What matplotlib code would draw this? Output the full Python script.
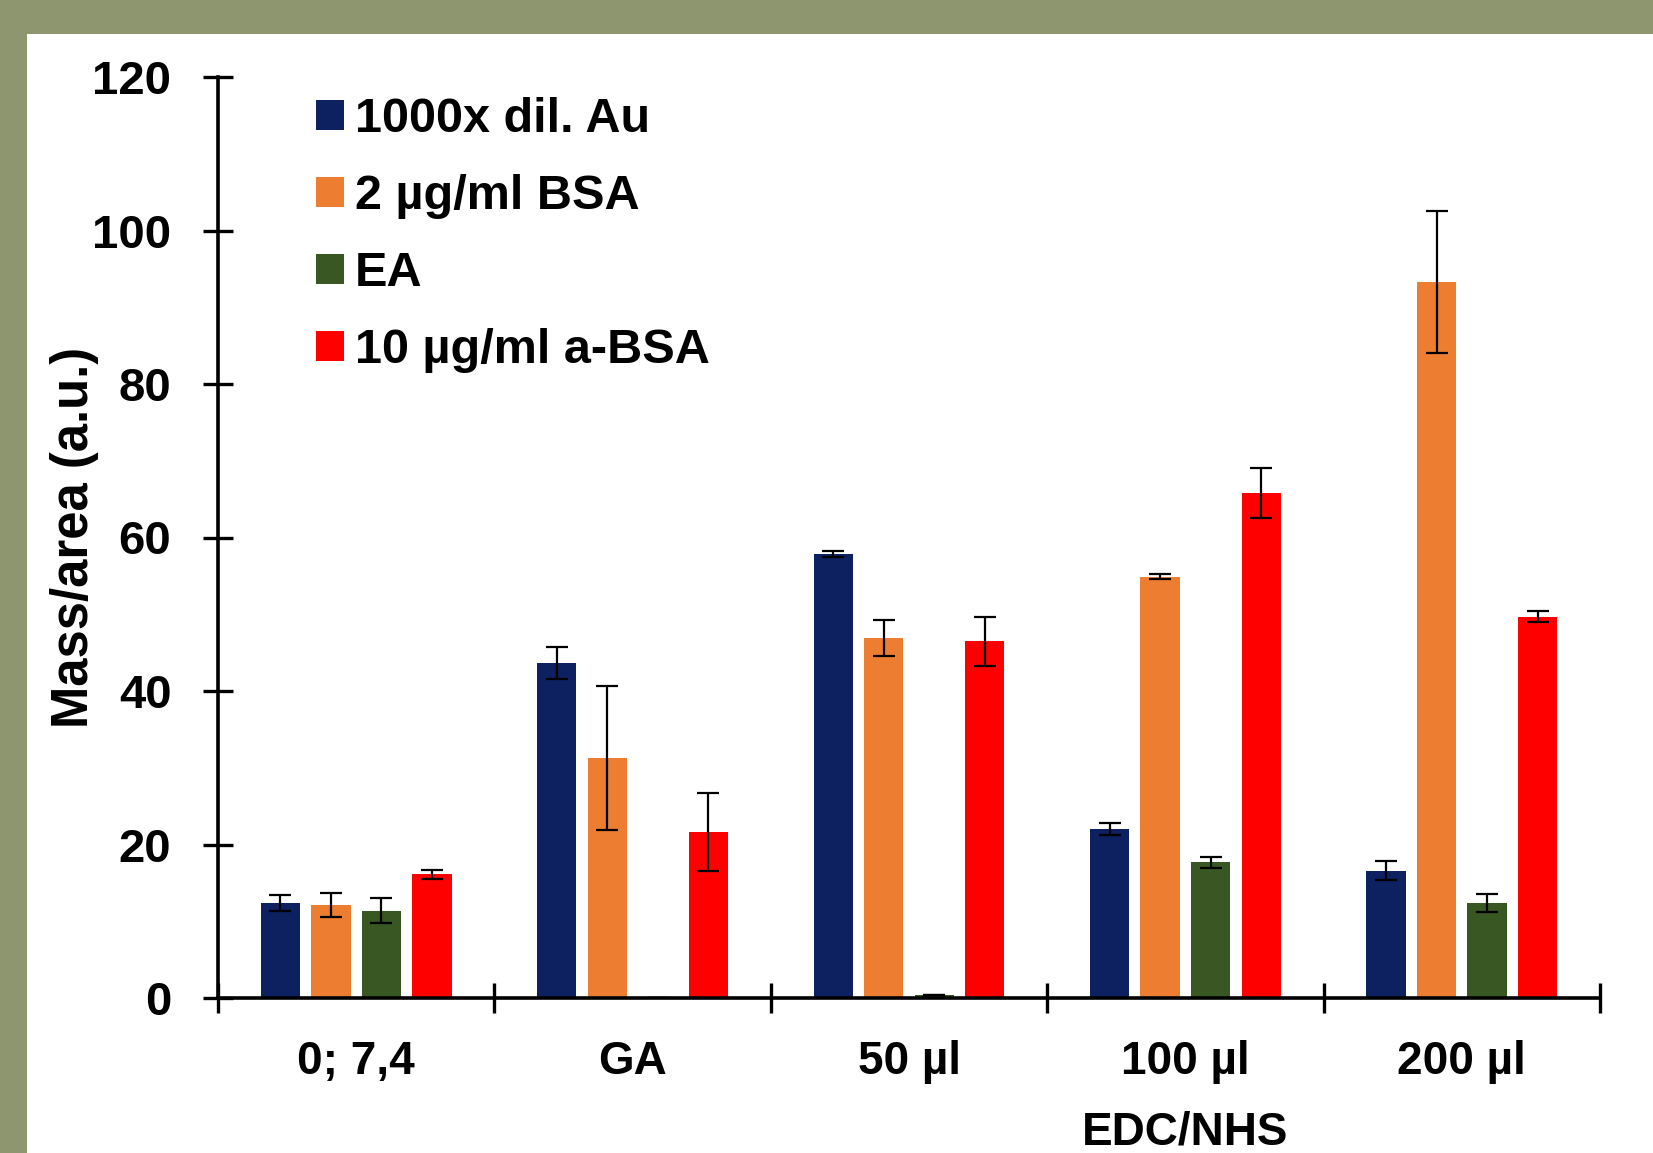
import numpy as np
import matplotlib
matplotlib.use('Agg')
import matplotlib.pyplot as plt
from matplotlib.patches import Rectangle

# Surface mass per area for each immobilisation step
categories = ['0; 7,4', 'GA', '50 µl', '100 µl', '200 µl']
series_names = ['1000x dil. Au', '2 µg/ml BSA', 'EA', '10 µg/ml a-BSA']

au_vals = [12.4, 43.6, 57.9, 22.0, 16.6]
au_err = [1.0, 2.1, 0.4, 0.8, 1.2]
bsa_vals = [12.1, 31.3, 46.9, 54.9, 93.3]
bsa_err = [1.6, 9.35, 2.35, 0.3, 9.2]
ea_vals = [11.4, 0.0, 0.4, 17.7, 12.4]
ea_err = [1.6, 0.0, 0.0, 0.7, 1.2]
absa_vals = [16.1, 21.6, 46.5, 65.8, 49.7]
absa_err = [0.6, 5.1, 3.2, 3.2, 0.7]

colors = ['#0d205f', '#ed7d31', '#385723', '#ff0000']

plt.rcParams['font.family'] = ['Liberation Sans', 'DejaVu Sans']
plt.rcParams['font.weight'] = 'bold'

W, H = 1653, 1153
fig = plt.figure(figsize=(W / 100, H / 100), dpi=100, facecolor='#8e9670')
# white slide panel behind the chart
fig.patches.append(Rectangle((27 / W, 0), 1, 1 - 34 / H, transform=fig.transFigure,
                             facecolor='white', edgecolor='none', zorder=-10))

ax = fig.add_axes([218 / W, 1 - 998 / H, 1382 / W, 921 / H])
ax.set_facecolor('none')
ax.set_zorder(1)

x = np.arange(len(categories))
step = 0.183
width = 0.142
all_vals = [au_vals, bsa_vals, ea_vals, absa_vals]
all_err = [au_err, bsa_err, ea_err, absa_err]
for i, (vals, err) in enumerate(zip(all_vals, all_err)):
    pos = x + (i - 1.5) * step
    ax.bar(pos, vals, width, color=colors[i], label=series_names[i], zorder=2)
    ax.errorbar(pos, vals, yerr=err, fmt='none', ecolor='black', elinewidth=1.6,
                capsize=8, capthick=1.6, zorder=3)

ax.set_xlim(-0.5, 4.5)
ax.set_ylim(0, 120)
ax.set_yticks(range(0, 121, 20))
ax.set_xticks(np.arange(-0.5, 5, 1))
ax.set_xticklabels([])
ax.set_xticks(x, minor=True)
ax.set_xticklabels(categories, minor=True, fontsize=33, fontweight='bold')
ax.tick_params(axis='x', which='major', direction='inout', length=21.6, width=2.4)
ax.tick_params(axis='x', which='minor', length=0, pad=30)
ax.tick_params(axis='y', direction='inout', length=21, width=2.4, pad=23, labelsize=34)
for lbl in ax.get_yticklabels():
    lbl.set_fontweight('bold')

for side in ['top', 'right']:
    ax.spines[side].set_visible(False)
for side in ['left', 'bottom']:
    ax.spines[side].set_linewidth(2.6)

ax.text(3, -0.1455, 'EDC/NHS', transform=ax.get_xaxis_transform(), ha='center', va='center',
        fontsize=33, fontweight='bold')

ax.set_ylabel('Mass/area (a.u.)', fontsize=36.5, fontweight='bold')
ax.yaxis.set_label_coords(-0.086, 0.50)

ax.legend(loc='upper left', bbox_to_anchor=(0.05, 1.01), frameon=False,
          prop={'size': 35, 'weight': 'bold'}, handlelength=0.58, handleheight=0.58,
          handletextpad=0.22, labelspacing=0.66, borderaxespad=0.2)

fig.savefig('out.png', dpi=100, facecolor=fig.get_facecolor())
